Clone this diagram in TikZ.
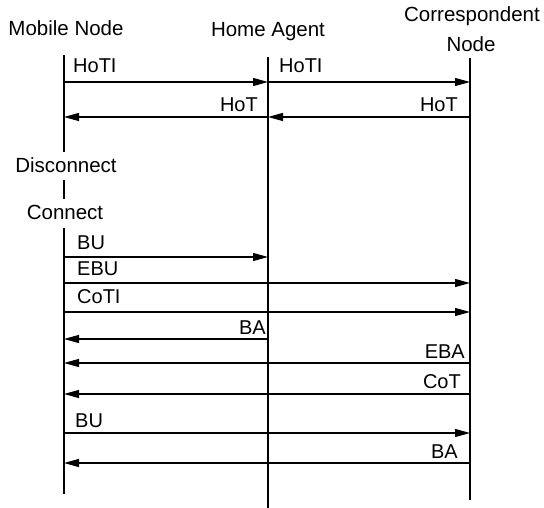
\documentclass[tikz,border=0pt]{standalone}
\usepackage{fontspec}
\setmainfont{Liberation Sans}
\usetikzlibrary{arrows.meta}
\begin{document}
\begin{tikzpicture}[x=1pt,y=1pt,
  life/.style={line width=1.1pt},
  msg/.style={line width=1.1pt,-{Triangle[length=15pt,width=8pt]}},
  hd/.style={inner sep=0pt,font=\fontsize{20.5}{29}\selectfont},
  lbl/.style={inner sep=0pt,font=\fontsize{20}{24}\selectfont}]
\useasboundingbox[fill=white] (0,0) rectangle (544,-508);
% headers
\node[hd,anchor=base] (mnh) at (66,-36) {Mobile Node};
\node[hd,anchor=base] (hah) at (268,-37) {Home Agent};
\node[hd,anchor=base] (cnh1) at (472,-22) {Correspondent};
\node[hd,anchor=base] (cnh2) at (471,-52) {Node};
% mobile node events
\node[hd,anchor=base] (disc) at (66,-173) {Disconnect};
\node[hd,anchor=base] (conn) at (65,-220) {Connect};
% lifelines
\coordinate (mn1) at (64,-55);  \coordinate (mn2) at (64,-152);
\coordinate (mn3) at (64,-180); \coordinate (mn4) at (64,-199);
\coordinate (mn5) at (64,-228); \coordinate (mn6) at (64,-494);
\coordinate (ha1) at (268,-57); \coordinate (ha2) at (268,-508);
\coordinate (cn1) at (470,-58); \coordinate (cn2) at (470,-500);
\draw[life] (mn1) -- (mn2);
\draw[life] (mn3) -- (mn4);
\draw[life] (mn5) -- (mn6);
\draw[life] (ha1) -- (ha2);
\draw[life] (cn1) -- (cn2);
% messages
\foreach \n/\a/\b/\y/\lx/\ly/\s/\t in {
  1/64/268/82/73/73/west/HoTI,
  2/268/470/82/279/73/west/HoTI,
  3/470/268/117/458/112/east/HoT,
  4/268/64/117/258/112/east/HoT,
  5/64/268/257/77/250/west/BU,
  6/64/470/283/77/276/west/EBU,
  7/64/470/312/77/303/west/CoTI,
  8/268/64/339/266/334/east/BA,
  9/470/64/363/465/358/east/EBA,
  10/470/64/394/461/388/east/CoT,
  11/64/470/433/75/427/west/BU,
  12/470/64/463/458/458/east/BA}{
  \coordinate (s\n) at (\a,-\y);
  \coordinate (e\n) at (\b,-\y);
  \draw[msg] (s\n) -- (e\n);
  \node[lbl,anchor=base \s] (l\n) at (\lx,-\ly) {\t};
}
\end{tikzpicture}
\end{document}
